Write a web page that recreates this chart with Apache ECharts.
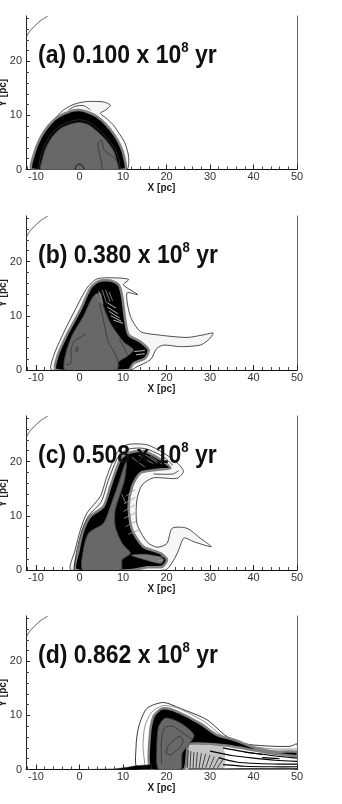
<!DOCTYPE html>
<html><head><meta charset="utf-8">
<style>html,body{margin:0;padding:0;background:#fff}#c{width:342px;height:804px}</style>
<script src="https://cdn.jsdelivr.net/npm/echarts@6/dist/echarts.min.js"></script>
</head><body><div id="c"></div>
<script>
var panelTitles=['(a) 0.100 x 10','(b) 0.380 x 10','(c) 0.508 x 10','(d) 0.862 x 10'];
var xMajor=[-10,0,10,20,30,40,50];
var xMinor=[-12,-8,-6,-4,-2,2,4,6,8,12,14,16,18,22,24,26,28,32,34,36,38,42,44,46,48];
var yMajor=[0,10,20];
var yMinor=[2,4,6,8,12,14,16,18,22,24,26,28];
var cornerArc=[[-12.3,24.4],[-11.5,25.5],[-10.5,26.4],[-9,27.5],[-7.3,28.4]];

var a_outer=[[-11,0],[-10.6,2.3],[-9.5,5],[-8.3,6.7],[-6,9.1],[-3.7,11],[-1.5,12],[0.9,12.5],[3,12.6],[5.5,12.5],[7.1,11.9],[6,11],[4.8,10.4],[6.3,9.4],[7.8,8.2],[9.5,6.2],[10.5,4.8],[11.3,2.3],[10.8,0]];
var a_mid=[[-2.5,11],[-1,11.7],[1,11.8],[2.5,11]];
var a_band=[[-10.9,0],[-10.4,3],[-8.9,6],[-7,8.2],[-5,9.7],[-2,10.8],[0,11],[2,10.6],[4,9.8],[6,8.4],[8,6.4],[9.4,4.4],[10.2,2.5],[10.4,0]];
var a_core=[[-8.8,0],[-8.5,2],[-7.7,4],[-6.3,6],[-4.5,7.5],[-2,8.4],[0,8.7],[2,8.3],[4,7.1],[6,5.5],[7.8,3.5],[8.6,1.5],[8.8,0]];
var a_line1=[[-9.4,0],[-9,2.2],[-8,4.5],[-6.6,6.5],[-4.5,8],[-2,8.9],[0,9.2],[2,8.8],[4,7.7],[6.2,5.9],[8.1,3.9],[9,2],[9.4,0]];
var a_line2=[[5.2,0],[5,1.5],[4.6,3],[4.3,4.2],[4.4,5.1],[5.1,5.4],[5.5,3.9],[6.5,3],[7.8,2.3],[8.7,1.5]];
var a_line3=[[-1,0],[-0.7,0.7],[0,1],[0.7,0.7],[1.1,0]];

var b_outer=[[-6.4,0],[-6,2.5],[-3.7,6.8],[-1,11.1],[1.7,15.1],[4,16.8],[7.8,17],[11.3,16.7],[10.1,15.7],[13.4,13.9],[10.9,14.2],[11.7,9.9],[14,7.1],[17.8,6.5],[24.7,6],[28.6,6.5],[30.7,6.8],[29.7,5.6],[27.8,4.6],[23.2,4.3],[19.4,4.6],[17.8,4],[16.3,1.9],[13.2,0.6],[11.7,0]];
var b_band=[[-5.4,0],[-5.1,2.5],[-2.9,6.5],[0.2,11.1],[2.5,15.1],[4.4,16.4],[7.1,16.5],[9,15.7],[9.8,13.6],[10.5,9.3],[11.3,6.5],[14,5.2],[15.9,3.7],[15.1,2.2],[12.4,1.2],[11.3,0]];
var b_core=[[-3.3,0],[-3.3,2.5],[-1.8,6.2],[0.9,9.9],[3.2,13.6],[4.8,14.2],[5.5,11.7],[7.1,8.6],[10.1,5.2],[12.4,3.7],[10.9,2.5],[9,1.5],[8.6,0]];
var b_line1=[[-3.1,1],[-2,1.2],[-1.9,4],[-1.2,5.3],[0.2,6],[1.4,6.6]];
var b_line2=[[3.9,14],[5,11],[5.8,8],[6.6,5.2],[8.2,3],[9.2,0.6]];
var b_line3=[[-0.9,3.6],[-0.6,4.3],[-0.3,3.8],[-0.6,3.3],[-0.9,3.6]];
var b_line4=[[9.2,5.6],[10.3,4],[11,2.9]];
var b_fan=[[[3.8,14],[4.6,12.4]],[[4.4,14.6],[5.4,12.2]],[[5.2,14.8],[6.2,12.4]],[[6,14.8],[7,12.6]],[[6.8,14.4],[7.6,12.8]]];
var b_stripes=[[[6.4,12.4],[8.4,11.4]],[[6.4,11.6],[8.8,10.4]],[[6.8,10.8],[9.2,9.6]],[[7.2,10],[9.6,9]],[[7.8,9.2],[10,8.6]],[[12.6,3.4],[15,3.6]],[[13,2.8],[15,3]]];

var c_outer=[[-1.9,0],[-1,3.7],[0.2,7.4],[1.7,10.5],[4.8,13.6],[6.3,17.3],[8.6,21.6],[10.9,23.1],[15.5,23.1],[19.3,21.6],[22.4,19.8],[23.9,18.2],[22.4,16.9],[17,17],[14.4,15.7],[13.2,13],[13.2,8.6],[15.5,5.2],[17.8,4.2],[20.1,4.9],[21.3,7.7],[24.7,7.7],[27.7,5.9],[30.3,4.3],[26.3,5.2],[24,5.9],[22.8,3.7],[21.7,1.9],[19.7,0]];
var c_band=[[-0.8,0],[-0.2,3.7],[0.9,7.4],[2.5,9.9],[5.5,11.7],[7.1,15.4],[9.4,20.4],[11.3,21.6],[14.7,21.9],[18.6,20.4],[20.9,18.8],[17.8,18.5],[14,17.9],[12.1,15.4],[11.3,11.7],[12.1,7.4],[14.7,4.3],[18.6,3.1],[20.1,1.9],[19,0.6],[15.5,0.5],[12.2,0]];
var c_core=[[0.8,0],[0.9,3.7],[2.1,6.8],[5.5,8.6],[7.1,11.7],[9,16],[10.8,20.2],[10.3,16.5],[8.2,11.1],[8.2,8],[9.8,4.9],[11.7,3.1],[9.8,1.9],[9.5,0]];
var c_gap=[[11.9,2.7],[15,1.9],[18.7,1.2],[19.3,1.9],[18,2.5],[14.8,2.9]];
var c_line1=[[-1.3,0],[-0.6,3.7],[0.6,7.4],[2.1,10],[5,12.6],[6.6,16.5],[9,21],[11.3,22.3],[15,22.4],[19,21],[21.5,19.3]];
var c_line2=[[17,17.7],[21.4,17.7],[22.8,18.3]];
var c_stripes=[[[12.8,14.8],[10.6,13.6]],[[12.8,13.4],[10.2,12.2]],[[12.7,12],[10.1,10.8]],[[12.7,10.5],[10.2,9.5]],[[13,9],[10.6,8]],[[13.8,7.4],[11.2,6.6]],[[13.6,21.2],[17,19.6]],[[15,21.3],[18,19.7]],[[16.2,21],[19,19.5]],[[12,20.8],[15,19]],[[9.7,14],[10.6,12.4]],[[18,1.7],[19.4,1.9]],[[17.6,2.4],[19.2,2.4]]];

var d_outer=[[13.6,0],[13,4.2],[13.6,7.9],[15.5,11.3],[19.3,12.4],[23.2,11.3],[29.3,9.2],[33.9,6.1],[38.5,4.7],[44.7,4.3],[48.5,4.3],[50,4.7],[50,0]];
var d_mid=[[15.2,0],[14.6,4.2],[15,7.9],[16.5,10.5],[19,11.8],[22.5,11.4],[28.8,8.8],[33,6.1],[37.5,4.6],[44.5,3.8],[50,3.8]];
var d_band=[[16.4,0],[16.1,5.5],[17,9.8],[19,11.3],[21.6,11],[27.8,8.5],[31.6,6.4],[35.5,5.5],[40.9,3.9],[45.5,3.3],[50,3.3],[50,2.5],[44,3],[37.8,3.9],[33.2,4.5],[27,4.8],[25,4.5],[24,0]];
var d_core=[[18.2,0],[17.8,4.2],[18.2,7.9],[19.7,9.5],[23.2,8.6],[26.3,6.4],[25,4.5],[23.6,3],[23.2,0]];
var d_line1=[[18.9,1],[18.8,5],[19.5,7.7],[21.5,8],[24,6.6],[26,5.5]];
var d_line2=[[19.9,3],[20.5,4.5],[22.8,6.1],[23.8,5.6],[23.2,4.2],[20.9,2.7],[19.9,3]];
var d_floor=[[1.8,0],[8,0.1],[11,0.4],[13,0.7],[16.5,0.9],[16.5,0]];
var d_under=[[24,0],[24.4,2],[25,4.2],[27,4.6],[30,4.4],[33,4.3],[33,0]];
var d_fan=[[[24.8,0.3],[25,3.6]],[[25.4,0.3],[25.6,3.4]],[[26.1,0.3],[26.3,3.2]],[[26.8,0.3],[27.1,3.2]],[[27.5,0.3],[28,3]],[[28.2,0.3],[29,2.9]],[[29,0.3],[30,2.7]],[[29.9,0.3],[31,2.4]],[[30.8,0.3],[32,2.1]],[[31.7,0.3],[33,1.9]]];
var d_streaks=[[[33,4],[37,3.4],[41,2.9],[45,2.5],[50,2.1]],[[30,3.4],[35,2.6],[40,2.1],[45,1.7],[50,1.5]],[[32,2.2],[36,1.4],[41,1.1],[46,1],[50,1]],[[33,0.9],[38,0.6],[44,0.5],[50,0.5]],[[25,0.1],[33,0.1],[42,0.15],[50,0.15]],[[42,2.2],[44,2.1],[46,2]],[[38,3.2],[40,3],[42,2.8]]];

var LEFT=26,W=271,X0=-12.3,X1=50,YTOP=28.4;
var tops=[16,216,416,616],bottoms=[169.5,370,570,769.5];
var FONT='"Liberation Sans",Arial,sans-serif';
var grids=[],xAxes=[],yAxes=[],titles=[],series=[];

function shape(g,pts,o){
  var closed=!!o.fill;
  series.push({type:'custom',xAxisIndex:g*2,yAxisIndex:g*3,coordinateSystem:'cartesian2d',silent:true,animation:false,
    clip:true,data:pts,encode:{x:0,y:1},
    renderItem:function(p,api){
      if(p.dataIndex!==0)return null;
      var c=pts.map(function(q){return api.coord(q);});
      return {type:closed?'polygon':'polyline',shape:{points:c,smooth:o.sm==null?0.25:o.sm},
        style:{fill:o.fill||'none',stroke:o.stroke||'none',lineWidth:o.lw||0.8}};
    }});
}
function group(g,list,o){list.forEach(function(l){shape(g,l,o);});}

for(var i=0;i<4;i++){
  grids.push({left:LEFT,width:W,top:tops[i],height:bottoms[i]-tops[i],show:false,outerBoundsMode:'none',containLabel:false});
  titles.push({type:'text',x:38,y:tops[i]+24,scaleX:0.885,z:50,silent:true,
    style:{text:panelTitles[i]+'{s|8}{t| yr}',font:'bold 26px '+FONT,fill:'#111',
      rich:{s:{font:'bold 15px '+FONT,fill:'#111',padding:[0,0,16,0]},
            t:{font:'bold 26px '+FONT,fill:'#111'}}}});
  xAxes.push({gridIndex:i,type:'value',min:X0,max:X1,position:'bottom',name:'X [pc]',nameLocation:'middle',nameGap:12,
    nameTextStyle:{fontFamily:FONT,fontWeight:'bold',fontSize:10,color:'#222'},
    splitLine:{show:false},axisLine:{onZero:false,lineStyle:{color:'#111',width:1}},
    axisTick:{inside:true,length:5,customValues:xMajor,lineStyle:{color:'#222'}},
    axisLabel:{customValues:xMajor,margin:2,fontFamily:FONT,fontSize:11,color:'#333',showMinLabel:true,showMaxLabel:true}});
  xAxes.push({gridIndex:i,type:'value',min:X0,max:X1,position:'bottom',
    splitLine:{show:false},axisLine:{show:false,onZero:false},
    axisTick:{inside:true,length:3,customValues:xMinor,lineStyle:{color:'#444'}},axisLabel:{show:false}});
  yAxes.push({gridIndex:i,type:'value',min:0,max:YTOP,position:'left',name:'Y [pc]',nameLocation:'middle',nameGap:18,nameMoveOverlap:false,
    nameTextStyle:{fontFamily:FONT,fontWeight:'bold',fontSize:10,color:'#222'},
    splitLine:{show:false},axisLine:{onZero:false,lineStyle:{color:'#222',width:1}},
    axisTick:{inside:true,length:4,customValues:yMajor,lineStyle:{color:'#222'}},
    axisLabel:{customValues:yMajor,margin:4,fontFamily:FONT,fontSize:11,color:'#333',showMinLabel:true}});
  yAxes.push({gridIndex:i,type:'value',min:0,max:YTOP,position:'left',
    splitLine:{show:false},axisLine:{show:false,onZero:false},
    axisTick:{inside:true,length:3,customValues:yMinor,lineStyle:{color:'#444'}},axisLabel:{show:false}});
  yAxes.push({gridIndex:i,type:'value',min:0,max:YTOP,position:'right',
    splitLine:{show:false},axisLine:{show:true,onZero:false,lineStyle:{color:'#666',width:1}},axisTick:{show:false},axisLabel:{show:false}});
  shape(i,cornerArc,{stroke:'#333',lw:0.8});
}
var GRAY='#686868',PALE='#f6f6f6',L='#222',HALO='#808080',INNER='#333';
// panel a
shape(0,a_outer,{fill:PALE,stroke:L,lw:0.8});
shape(0,a_mid,{stroke:L,lw:0.8});
shape(0,a_band,{fill:'#000',stroke:HALO,lw:2.5});
shape(0,a_line1,{stroke:'#2c2c2c',lw:1});
shape(0,a_core,{fill:GRAY,stroke:'#484848',lw:1});
shape(0,a_line2,{stroke:INNER,lw:0.8});
shape(0,a_line3,{stroke:'#111',lw:1});
// panel b
shape(1,b_outer,{fill:PALE,stroke:L,lw:0.8});
shape(1,b_band,{fill:'#000',stroke:HALO,lw:2.5});
shape(1,b_core,{fill:GRAY,stroke:'#484848',lw:1});
group(1,[b_line1,b_line2,b_line3,b_line4],{stroke:INNER,lw:0.8});
group(1,b_fan,{stroke:'#999',lw:0.8,sm:0});
group(1,b_stripes,{stroke:'#ccc',lw:0.9,sm:0});
// panel c
shape(2,c_outer,{fill:PALE,stroke:L,lw:0.8});
shape(2,c_band,{fill:'#000',stroke:HALO,lw:2.5});
shape(2,c_core,{fill:GRAY,stroke:'#484848',lw:1});
shape(2,c_gap,{fill:'#7a7a7a',stroke:'#555',lw:0.6});
group(2,[c_line1,c_line2],{stroke:L,lw:0.8});
group(2,c_stripes,{stroke:'#999',lw:0.8,sm:0});
// panel d
shape(3,d_outer,{fill:'#fff',stroke:L,lw:0.9});
shape(3,d_mid,{stroke:'#888',lw:0.9});
shape(3,d_under,{fill:'#c4c4c4'});
shape(3,d_band,{fill:'#000',stroke:HALO,lw:2.5});
shape(3,d_core,{fill:GRAY,stroke:'#484848',lw:1});
group(3,[d_line1,d_line2],{stroke:INNER,lw:0.8});
shape(3,d_floor,{fill:'#000',stroke:'#333',lw:0.6,sm:0});
group(3,d_fan,{stroke:'#222',lw:0.8,sm:0});
group(3,d_streaks,{stroke:'#000',lw:1.1});

var chart=echarts.init(document.getElementById('c'),null,{renderer:'canvas'});
chart.setOption({animation:false,backgroundColor:'#fff',grid:grids,xAxis:xAxes,yAxis:yAxes,series:series,graphic:{elements:titles}});
</script></body></html>
